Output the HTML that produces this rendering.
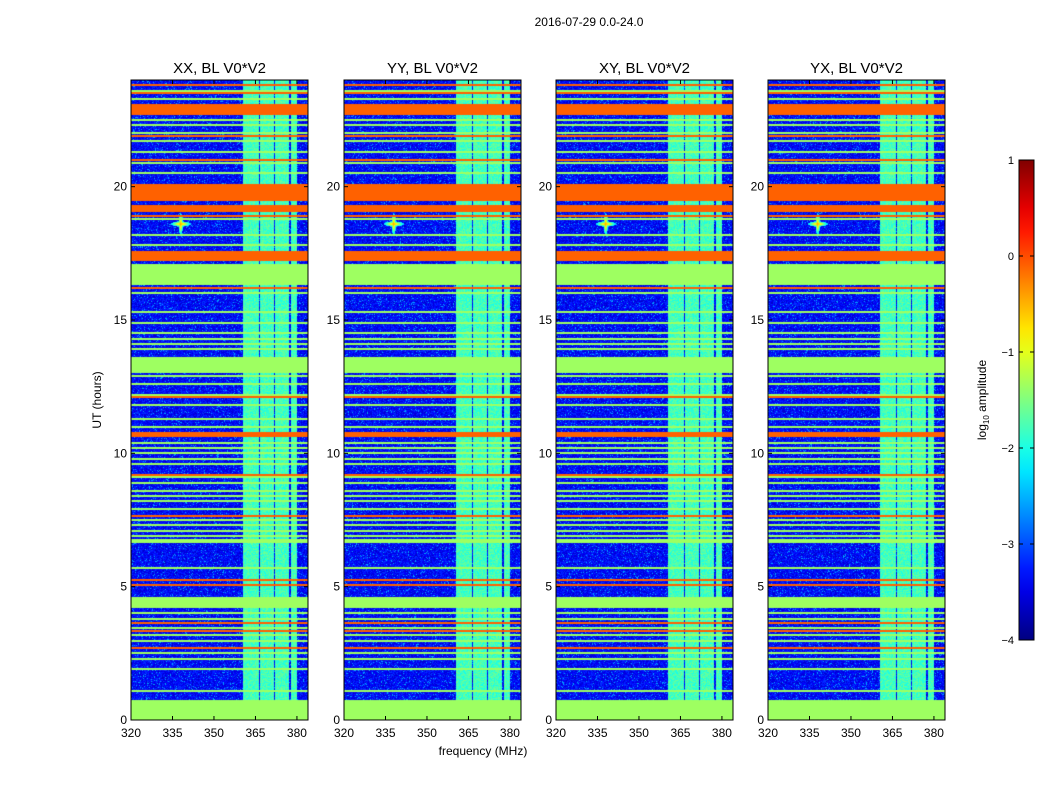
<!DOCTYPE html>
<html><head><meta charset="utf-8"><style>
body{margin:0;background:#fff;font-family:"Liberation Sans",sans-serif;}
#wrap{position:relative;width:1050px;height:800px;overflow:hidden;}
</style></head><body>
<div id="wrap">
<svg id="svg" width="1050" height="800" style="position:absolute;left:0;top:0"></svg>
</div>
<script>
// ---- data ----
const panelTitles = ["XX, BL V0*V2","YY, BL V0*V2","XY, BL V0*V2","YX, BL V0*V2"];
const xTicks = [320,335,350,365,380];
const yTicks = [0,5,10,15,20];
const cbTicks = [1,0,-1,-2,-3,-4];
const backgroundLevel = -3.35;
// wide bands: [startHour, endHour, log10 level]
const bandStart = [0, 4.2, 6.62, 10.62, 13.0, 16.3, 17.2, 19.05, 19.45, 22.7];
const bandEnd   = [0.75, 4.6, 6.8, 10.8, 13.6, 17.1, 17.6, 19.3, 20.1, 23.1];
const bandLevel = [-1.35, -1.35, -1.35, -0.1, -1.35, -1.35, -0.1, -0.1, -0.1, -0.1];
// thin lines
const greenLines = [1.1,1.9,2.3,2.5,2.95,3.2,3.45,3.8,4.0,5.7,6.9,7.1,7.3,7.5,7.9,8.2,8.4,8.6,8.9,9.1,9.6,9.8,10.0,10.2,10.4,11.0,11.3,11.8,12.2,12.6,12.9,13.9,14.1,14.3,14.5,14.9,15.3,16.0,17.8,18.2,18.8,20.5,20.9,21.3,21.7,22.0,22.3,22.5,23.3,23.6];
const orangeLines = [2.7,3.35,3.65,5.05,5.25,7.65,9.2,12.1,16.2,18.9,21.0,21.9,23.5,23.8];
// bright channel columns [startMHz, endMHz]
const chanStart = [360.5, 366.8, 372.2, 377.8];
const chanEnd   = [366.2, 371.7, 377.3, 380.2];
const chanLevel = -1.8;
const cbMin=-4, cbMax=1;

// ---- layout ----
const panelX=[131,344,556,768], pW=177, pTop=80, pH=640;
const fMin=320, fMax=384, hMin=0, hMax=24;
const NS="http://www.w3.org/2000/svg";
const svg=document.getElementById('svg');
function el(t,a,p){const e=document.createElementNS(NS,t);for(const k in a)e.setAttribute(k,a[k]);(p||svg).appendChild(e);return e;}
function jet(t){t=Math.max(0,Math.min(1,t));const c=v=>Math.round(255*Math.max(0,Math.min(1,v)));
 return [c(1.5-Math.abs(4*t-3)),c(1.5-Math.abs(4*t-2)),c(1.5-Math.abs(4*t-1))];}
function hash(a,b){let h=(a*374761393+b*668265263)|0;h=(h^(h>>>13))*1274126177;h=h^(h>>>16);return ((h>>>0)%10000)/10000;}
function levelAt(hour,freq,col,row,p){
 const n=hash(col+p*1000,row);
 let lv=backgroundLevel+(n-0.5)*0.6+(n>0.93?0.5:0);
 let base=null;
 for(let i=0;i<bandStart.length;i++) if(hour>=bandStart[i]&&hour<bandEnd[i]) base=bandLevel[i];
 for(const g of greenLines) if(Math.abs(hour-g)<0.035) base=Math.max(base??-9,-1.35);
 for(const o of orangeLines) if(Math.abs(hour-o)<0.035) base=-0.1;
 if(base!==null) lv=base;
 if(hour>=0.75){
  for(let i=0;i<chanStart.length;i++) if(freq>=chanStart[i]&&freq<chanEnd[i]){lv=Math.max(lv,chanLevel+(hash(col,row+7)-0.5)*0.5);}
 }
 // bright source near 338 MHz, 18.6 h
 const d=Math.min(Math.hypot((freq-338)/0.4,(hour-18.6)/0.2),Math.hypot((freq-338)/1.8,(hour-18.6)/0.05));
 if(d<2 && base===null) lv=Math.max(lv,-0.2-d*1.1);
 return lv;
}
const xs=(p,f)=>panelX[p]+(f-fMin)/(fMax-fMin)*pW;
const ys=h=>pTop+pH-(h-hMin)/(hMax-hMin)*pH;

for(let p=0;p<4;p++){
 const g=el('g',{});
 
 
 const cv=document.createElement('canvas');cv.width=pW;cv.height=pH;
 const ctx=cv.getContext('2d');const im=ctx.createImageData(pW,pH);
 for(let r=0;r<pH;r++){const hour=hMax-(r+0.5)/pH*(hMax-hMin);
  for(let c=0;c<pW;c++){const f=fMin+(c+0.5)/pW*(fMax-fMin);
   const col=jet((levelAt(hour,f,c,r,p)-cbMin)/(cbMax-cbMin));
   const i=(r*pW+c)*4;im.data[i]=col[0];im.data[i+1]=col[1];im.data[i+2]=col[2];im.data[i+3]=255;}}
 ctx.putImageData(im,0,0);
 const img=el('image',{x:panelX[p],y:pTop,width:pW,height:pH,href:cv.toDataURL(),preserveAspectRatio:'none'},g);
 
 
 const fr=el('rect',{x:panelX[p],y:pTop,width:pW,height:pH,fill:'none',stroke:'#000','stroke-width':1},g);
 
 
 const t=el('text',{x:panelX[p]+pW/2,y:73,'text-anchor':'middle','font-size':15},g);t.textContent=panelTitles[p];
 
 
 for(const v of xTicks){const x=xs(p,v);
  el('line',{x1:x,x2:x,y1:pTop+pH,y2:pTop+pH-4,stroke:'#000'},g);el('line',{x1:x,x2:x,y1:pTop,y2:pTop+4,stroke:'#000'},g);
  const tx=el('text',{x:x,y:737,'text-anchor':'middle','font-size':12},g);tx.textContent=v;
  
  }
 for(const v of yTicks){const y=ys(v);
  el('line',{x1:panelX[p],x2:panelX[p]+4,y1:y,y2:y,stroke:'#000'},g);el('line',{x1:panelX[p]+pW,x2:panelX[p]+pW-4,y1:y,y2:y,stroke:'#000'},g);
  const ty=el('text',{x:panelX[p]-4,y:y+4,'text-anchor':'end','font-size':12},g);ty.textContent=v;
  
  }
}
const st=el('text',{x:589,y:26,'text-anchor':'middle','font-size':12});st.textContent='2016-07-29 0.0-24.0';


const xl=el('text',{x:483,y:755,'text-anchor':'middle','font-size':12});xl.textContent='frequency (MHz)';


const yl=el('text',{x:0,y:0,'text-anchor':'middle','font-size':12,transform:'translate(101,400) rotate(-90)'});yl.textContent='UT (hours)';


// colorbar
const cbX=1019,cbW=15,cbTop=160,cbH=480;
const defs=el('defs',{});const lg=el('linearGradient',{id:'jetg',x1:0,y1:1,x2:0,y2:0},defs);
for(let i=0;i<=20;i++){const c=jet(i/20);el('stop',{offset:(i/20),'stop-color':`rgb(${c})`},lg);}
const cb=el('rect',{x:cbX,y:cbTop,width:cbW,height:cbH,fill:'url(#jetg)',stroke:'#000'});


for(const v of cbTicks){const y=cbTop+(cbMax-v)/(cbMax-cbMin)*cbH;
 el('line',{x1:cbX,x2:cbX+4,y1:y,y2:y,stroke:'#000'});el('line',{x1:cbX+cbW,x2:cbX+cbW-4,y1:y,y2:y,stroke:'#000'});
 const t=el('text',{x:cbX-5,y:y+4,'text-anchor':'end','font-size':11});t.textContent=v<0?'\u2212'+(-v):v;
 
 }
const cl=el('text',{x:0,y:0,'text-anchor':'middle','font-size':12,transform:'translate(986,400) rotate(-90)'});
cl.innerHTML='log<tspan font-size="8" dy="3">10</tspan><tspan dy="-3"> amplitude</tspan>';


</script>
</body></html>
